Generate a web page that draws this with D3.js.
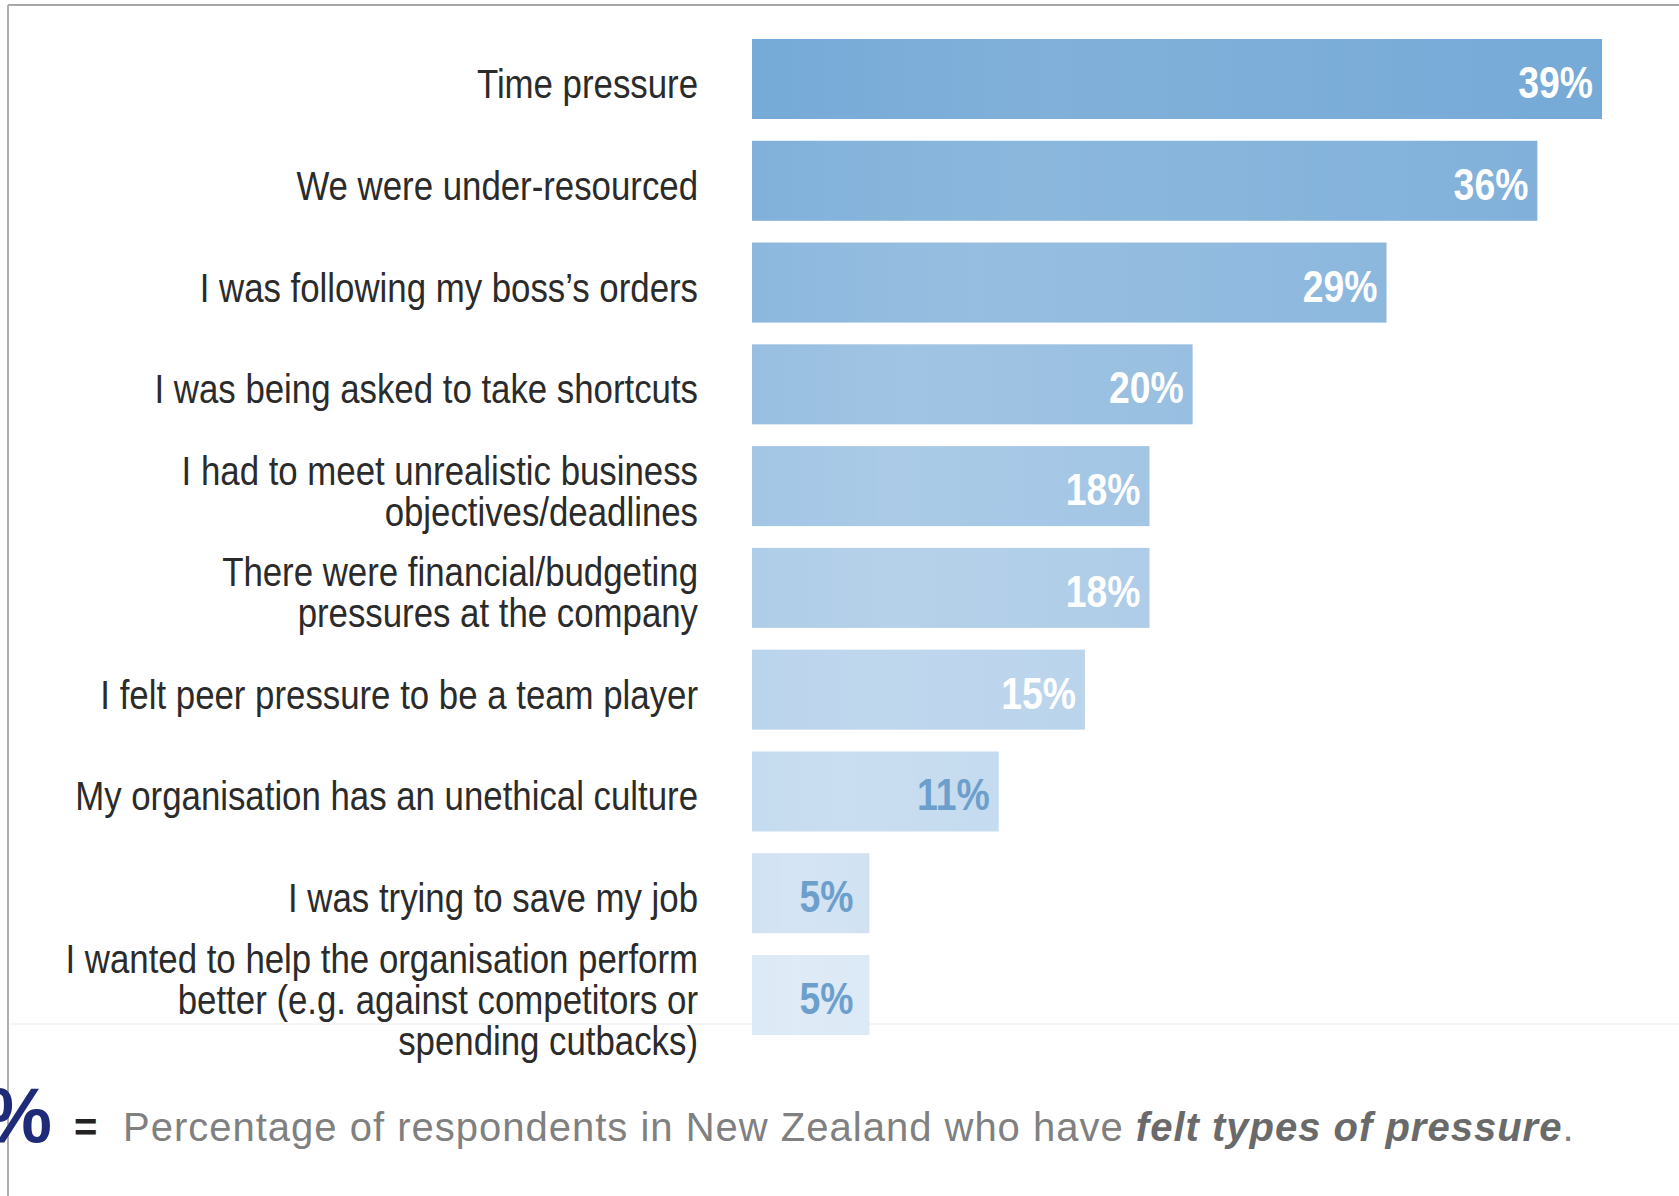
<!DOCTYPE html>
<html>
<head>
<meta charset="utf-8">
<script src="https://cdn.jsdelivr.net/npm/d3@7"></script>
<style>
  html, body { margin: 0; padding: 0; background: #ffffff; }
  svg { display: block; }
</style>
</head>
<body>
<svg id="chart" width="1679" height="1196"></svg>
<script>
// ---------- data ----------
const categories = [
  "Time pressure",
  "We were under-resourced",
  "I was following my boss\u2019s orders",
  "I was being asked to take shortcuts",
  "I had to meet unrealistic business\nobjectives/deadlines",
  "There were financial/budgeting\npressures at the company",
  "I felt peer pressure to be a team player",
  "My organisation has an unethical culture",
  "I was trying to save my job",
  "I wanted to help the organisation perform\nbetter (e.g. against competitors or\nspending cutbacks)"
];
const values = [39, 36, 29, 20, 18, 18, 15, 11, 5, 5];
const valueLabels = ["39%", "36%", "29%", "20%", "18%", "18%", "15%", "11%", "5%", "5%"];
const legendSymbol = "%";
const legendPlain = "Percentage of respondents in New Zealand who have ";
const legendEmph = "felt types of pressure";

// ---------- layout ----------
const W = 1679, H = 1196;
const svg = d3.select("#chart");
svg.append("rect").attr("width", W).attr("height", H).attr("fill", "#ffffff");

const x = d3.scaleLinear().domain([-0.45, 39]).range([752, 1602]);
const y = d3.scaleBand().domain(d3.range(categories.length)).range([39, 1035]).paddingInner(0.214).paddingOuter(0);
const color = d3.scaleLinear().domain([0, 9]).range(["#76aad7", "#dce9f6"]).interpolate(d3.interpolateRgb);

const defs = svg.append("defs");
const sheen = defs.append("linearGradient").attr("id", "sheen").attr("x1", "0").attr("x2", "1").attr("y1", "0").attr("y2", "0");
sheen.append("stop").attr("offset", "0").attr("stop-color", "#ffffff").attr("stop-opacity", 0.0);
sheen.append("stop").attr("offset", "0.35").attr("stop-color", "#ffffff").attr("stop-opacity", 0.08);
sheen.append("stop").attr("offset", "1").attr("stop-color", "#ffffff").attr("stop-opacity", 0.0);

// frame lines
svg.append("line").attr("x1", 8).attr("x2", W).attr("y1", 5).attr("y2", 5)
  .attr("stroke", "#a8a8a8").attr("stroke-width", 2);
svg.append("line").attr("x1", 8).attr("x2", 8).attr("y1", 5).attr("y2", H)
  .attr("stroke", "#b0b0b0").attr("stroke-width", 2);
svg.append("line").attr("x1", 10).attr("x2", W).attr("y1", 1024).attr("y2", 1024)
  .attr("stroke", "#ececec").attr("stroke-width", 1);

// bars
const bars = svg.append("g");
bars.selectAll("rect.bar").data(values).join("rect")
  .attr("class", "bar")
  .attr("x", x.range()[0])
  .attr("y", (d, i) => y(i))
  .attr("width", d => x(d) - x.range()[0])
  .attr("height", y.bandwidth())
  .attr("fill", (d, i) => color(i));
bars.selectAll("rect.sheen").data(values).join("rect")
  .attr("class", "sheen")
  .attr("x", x.range()[0])
  .attr("y", (d, i) => y(i))
  .attr("width", d => x(d) - x.range()[0])
  .attr("height", y.bandwidth())
  .attr("fill", "url(#sheen)");

// value labels
bars.selectAll("text.val").data(values).join("text")
  .attr("class", "val")
  .attr("transform", (d, i) => `translate(${x(d) - (d < 10 ? 16 : 9)},${y(i) + y.bandwidth() / 2 + 19}) scale(0.83,1)`)
  .attr("text-anchor", "end")
  .attr("font-family", "'Liberation Sans', Arial, sans-serif")
  .attr("font-weight", "bold")
  .attr("font-size", 45)
  .attr("fill", (d, i) => i < 7 ? "#ffffff" : "#6c9fcb")
  .text((d, i) => valueLabels[i]);

// category labels
const lineH = 41;
const labels = svg.append("g");
categories.forEach((c, i) => {
  const lines = c.split("\n");
  const cy = y(i) + y.bandwidth() / 2;
  lines.forEach((ln, j) => {
    const by = cy + 19 + (j - (lines.length - 1) / 2) * lineH;
    labels.append("text")
      .attr("transform", `translate(698,${by}) scale(0.87,1)`)
      .attr("text-anchor", "end")
      .attr("font-family", "'Liberation Sans', Arial, sans-serif")
      .attr("font-size", 40)
      .attr("fill", "#2b2b2b")
      .text(ln);
  });
});

// legend
const leg = svg.append("g");
leg.append("text")
  .attr("x", 52).attr("y", 1142)
  .attr("text-anchor", "end")
  .attr("font-family", "'Liberation Sans', Arial, sans-serif")
  .attr("font-weight", "bold")
  .attr("font-size", 77)
  .attr("fill", "#1f2a78")
  .text(legendSymbol);
leg.append("text")
  .attr("x", 74).attr("y", 1141)
  .attr("font-family", "'Liberation Sans', Arial, sans-serif")
  .attr("font-weight", "bold")
  .attr("font-size", 40)
  .attr("fill", "#222222")
  .text("=");
const lt = leg.append("text")
  .attr("x", 123).attr("y", 1141)
  .attr("font-family", "'Liberation Sans', Arial, sans-serif")
  .attr("font-size", 40)
  .attr("letter-spacing", "1px")
  .attr("fill", "#808080");
lt.append("tspan").text(legendPlain);
lt.append("tspan").attr("font-weight", "bold").attr("font-style", "italic").attr("fill", "#6a6a6a").text(legendEmph);
lt.append("tspan").text(".");
</script>
</body>
</html>
